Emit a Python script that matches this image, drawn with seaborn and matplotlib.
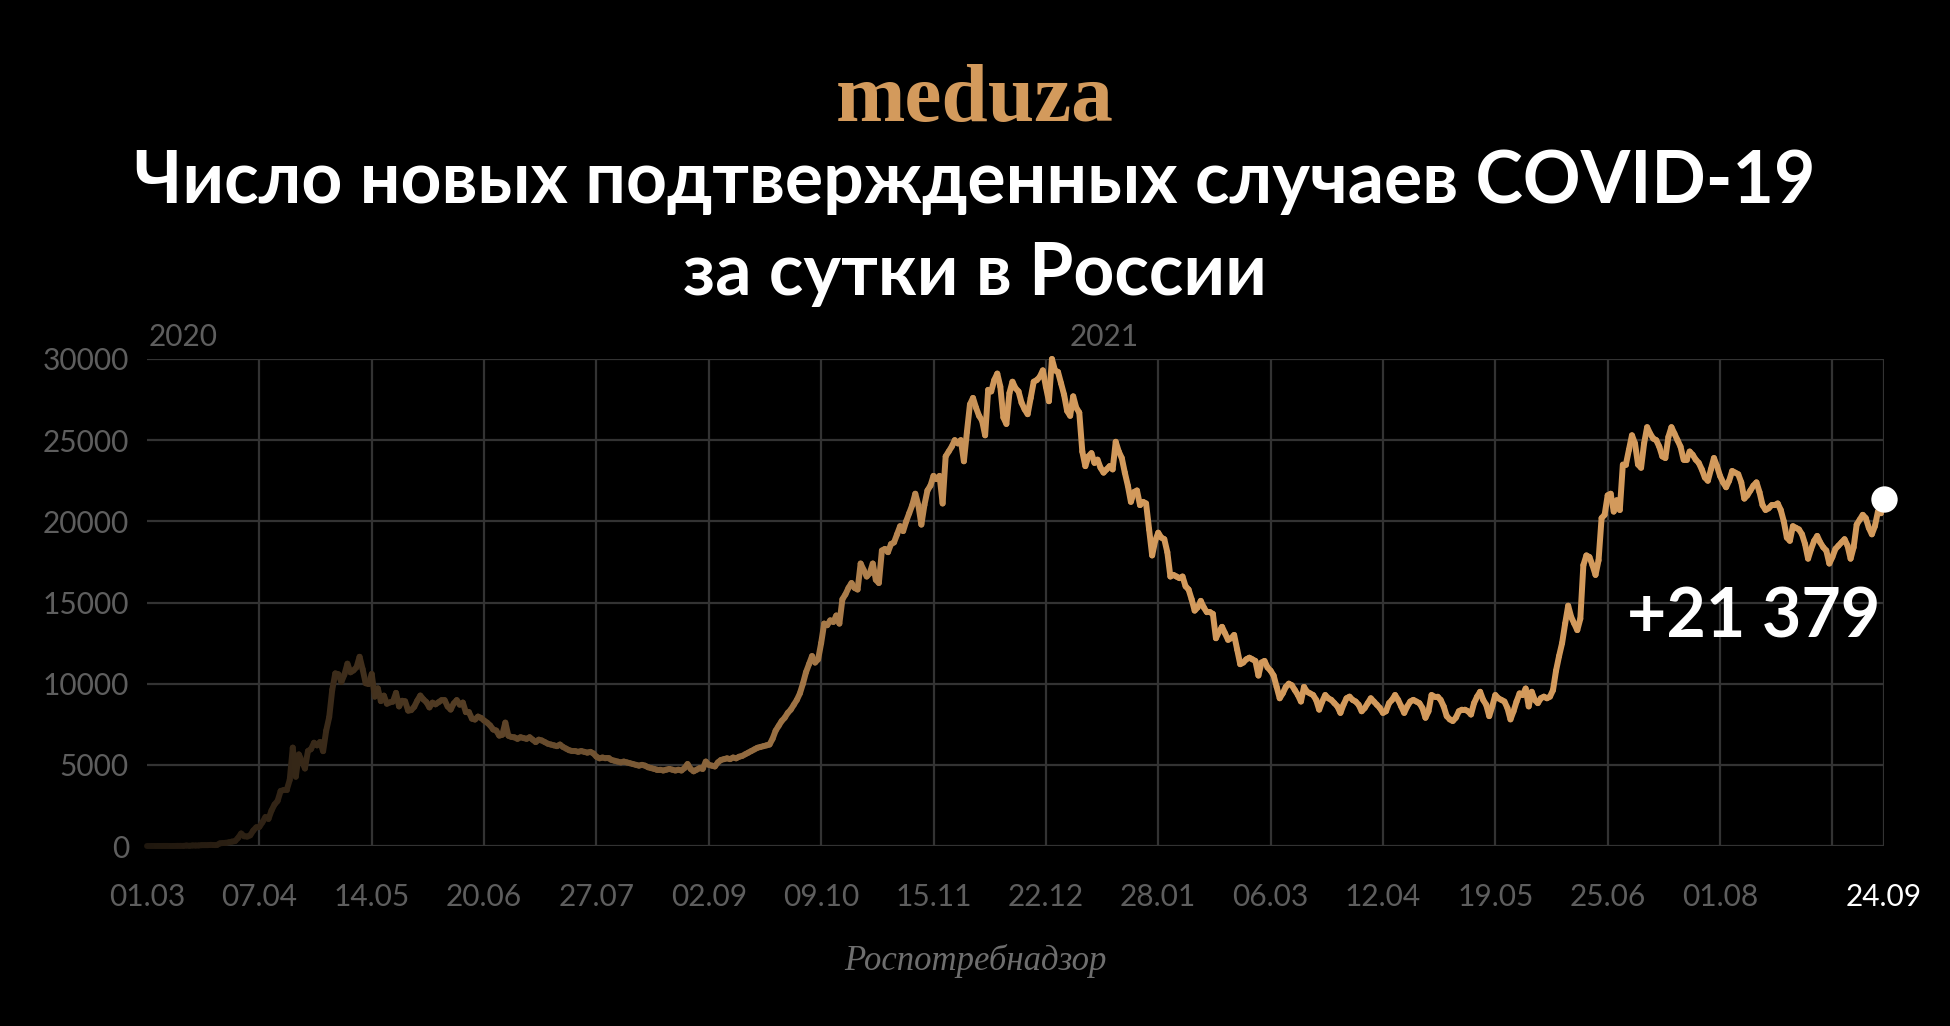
import numpy as np
import pandas as pd
import matplotlib
matplotlib.use("Agg")
import matplotlib.pyplot as plt
from matplotlib.colors import LinearSegmentedColormap
import seaborn as sns

# daily new cases
mar20 = [0, 0, 1, 0, 1, 3, 4, 3, 1, 3, 7, 8, 6, 29, 10, 34, 30, 33, 52, 54,
         53, 71, 57, 58, 163, 182, 196, 228, 270, 302, 500]
apr20 = [771, 601, 582, 658, 954, 1154, 1175, 1459, 1786, 1667, 2186, 2558, 2774, 3388, 3448,
         3448, 4070, 6060, 4268, 5642, 5236, 4774, 5849, 5966, 6361, 6198, 6411, 5841, 7099, 7933]
may20 = [9623, 10633, 10581, 10102, 10559, 11231, 10699, 10817, 11012, 11656, 10899, 10028,
         9974, 10598, 9200, 9709, 8926, 9263, 8764, 8849, 8894, 9434, 8599, 8946, 8915, 8338,
         8371, 8572, 8952, 9268, 9035]
jun20 = [8863, 8536, 8831, 8726, 8855, 8984, 8985, 8595, 8404, 8779, 8987, 8706, 8835, 8246,
         8248, 7843, 7790, 7972, 7889, 7728, 7600, 7425, 7176, 7113, 6800, 6852, 7600, 6791,
         6719, 6693]
jul20 = [6600, 6700, 6650, 6600, 6700, 6550, 6400, 6550, 6500, 6400, 6300, 6250, 6200, 6150,
         6250, 6100, 6000, 5900, 5850, 5850, 5800, 5850, 5800, 5750, 5800, 5700, 5500, 5400,
         5450, 5400, 5400]
aug20 = [5300, 5250, 5200, 5150, 5200, 5150, 5100, 5050, 5000, 4950, 5000, 4950, 4850, 4800,
         4750, 4700, 4700, 4650, 4700, 4750, 4700, 4650, 4700, 4650, 4800, 5050, 4750, 4600,
         4700, 4800, 4750]
sep20 = [5200, 5000, 4950, 4900, 5150, 5300, 5350, 5400, 5350, 5450, 5400, 5500, 5550, 5650,
         5750, 5850, 5950, 6050, 6100, 6150, 6200, 6250, 6600, 7100, 7400, 7700, 7900, 8200,
         8400, 8700]
oct20 = [9000, 9400, 10000, 10700, 11200, 11700, 11300, 11500, 12500, 13700, 13600, 13900,
         13800, 14200, 13700, 15200, 15500, 15900, 16200, 15900, 15800, 17400, 17000, 16600,
         16800, 17400, 16400, 16200, 18200, 18300, 18100]
nov20 = [18600, 18700, 19200, 19700, 19400, 20000, 20500, 21000, 21700, 21000, 19800, 21000,
         21900, 22200, 22800, 22600, 22800, 21100, 24000, 24300, 24600, 25000, 24800, 25000,
         23700, 25500, 27200, 27600, 27000, 26500]
dec20 = [26200, 25300, 28100, 28000, 28700, 29100, 28300, 26400, 26000, 27900, 28600, 28200,
         28000, 27300, 26900, 26600, 27600, 28600, 28700, 28900, 29300, 28300, 27400, 30000,
         29300, 29200, 28500, 27800, 26800, 26500, 27700]
jan21 = [27000, 26700, 24300, 23400, 24000, 24200, 23600, 23800, 23300, 23000, 23200, 23400,
         23200, 24900, 24300, 23900, 23000, 22200, 21200, 21800, 21900, 21000, 21200, 21100,
         19500, 17900, 18800, 19300, 19000, 18900, 18100]
feb21 = [16600, 16700, 16600, 16500, 16600, 16000, 15800, 15200, 14500, 14700, 15100, 14700,
         14400, 14400, 14300, 12800, 13200, 13500, 13100, 12700, 12800, 13000, 12100, 11200,
         11300, 11500, 11600, 11500]
mar21 = [11400, 10500, 11300, 11400, 11000, 10800, 10500, 9800, 9100, 9400, 9800, 10000,
         9900, 9600, 9300, 8900, 9800, 9500, 9400, 9300, 9000, 8400, 8900, 9300, 9100, 9000,
         8800, 8600, 8200, 8700, 9100]
apr21 = [9200, 9000, 8900, 8700, 8300, 8500, 8800, 9100, 8900, 8700, 8500, 8200, 8300, 8800,
         9000, 9300, 9000, 8600, 8200, 8600, 8900, 9000, 8900, 8800, 8500, 7900, 8300, 9300,
         9200, 9200]
may21 = [9000, 8600, 8000, 7800, 7700, 7900, 8300, 8400, 8400, 8300, 8100, 8800, 9200, 9500,
         9000, 8700, 8000, 8600, 9300, 9100, 9000, 8900, 8500, 7800, 8300, 8900, 9400, 9300,
         9700, 8600, 9500]
jun21 = [9000, 8800, 9100, 9200, 9100, 9200, 9600, 10800, 11700, 12500, 13700, 14800, 14100,
         13700, 13300, 14000, 17300, 17900, 17800, 17300, 16700, 17600, 20200, 20400, 21600,
         21700, 20600, 21300, 20700, 23500]
jul21 = [23500, 24400, 25300, 24800, 23500, 23300, 24800, 25800, 25400, 25100, 25000, 24600,
         24000, 23900, 25200, 25800, 25400, 25000, 24600, 23800, 23800, 24300, 24100, 23800,
         23600, 23200, 22700, 22500, 23200, 23900, 23400]
aug21 = [22800, 22400, 22100, 22500, 23100, 23000, 22900, 22400, 21400, 21600, 21900, 22200,
         22400, 21800, 21000, 20700, 20800, 21000, 21000, 21100, 20700, 20000, 19000, 18800,
         19700, 19600, 19500, 19200, 18600, 17700, 18300]
sep21 = [18800, 19100, 18700, 18400, 18200, 17400, 17800, 18300, 18500, 18700, 18900, 18500,
         17700, 18400, 19800, 20100, 20400, 20200, 19600, 19200, 19700, 20600, 20500, 21379]

month_starts = ["2020-03-01", "2020-04-01", "2020-05-01", "2020-06-01", "2020-07-01",
                "2020-08-01", "2020-09-01", "2020-10-01", "2020-11-01", "2020-12-01",
                "2021-01-01", "2021-02-01", "2021-03-01", "2021-04-01", "2021-05-01",
                "2021-06-01", "2021-07-01", "2021-08-01", "2021-09-01"]
month_values = [mar20, apr20, may20, jun20, jul20, aug20, sep20, oct20, nov20, dec20,
                jan21, feb21, mar21, apr21, may21, jun21, jul21, aug21, sep21]

dates, cases = [], []
for start, vals in zip(month_starts, month_values):
    dates += list(pd.date_range(start, periods=len(vals), freq="D"))
    cases += vals

GOLD = "#d39a5c"
GRID = "#333333"
TICK = "#5e5e5e"
W, H = 1950, 1026


def fx(x):
    return x / W


def fy(y):
    return 1 - y / H


sns.set_theme(style="dark", rc={"axes.facecolor": "black", "figure.facecolor": "black"})
plt.rcParams["font.family"] = ["Lato", "DejaVu Sans"]

fig = plt.figure(figsize=(W / 100, H / 100), dpi=100, facecolor="black")
ax = fig.add_axes([fx(147), fy(846), (1884 - 147) / W, (846 - 359) / H])
ax.set_facecolor("black")

# the line fades in from dark brown to gold: one short segment per day
day = np.arange(len(cases))
fade = np.clip(0.15 + 0.85 * (day / 285) ** 1.2, 0, 1)
rows = []
for i in range(len(cases) - 1):
    rows.append((dates[i], cases[i], i, fade[i]))
    rows.append((dates[i + 1], cases[i + 1], i, fade[i]))
seg = pd.DataFrame(rows, columns=["date", "cases", "seg", "fade"])

cmap = LinearSegmentedColormap.from_list("fade", ["#000000", GOLD])
sns.lineplot(data=seg, x="date", y="cases", units="seg", estimator=None, hue="fade",
             palette=cmap, hue_norm=(0, 1), legend=False, linewidth=4.3,
             solid_capstyle="round", ax=ax, zorder=3)
for ln in ax.lines:
    ln.set_clip_on(False)

ax.scatter([dates[-1]], [cases[-1]], s=360, color="white", zorder=5, clip_on=False,
           linewidths=0)

ax.set_xlim(pd.Timestamp("2020-03-01"), pd.Timestamp("2021-09-24"))
ax.set_ylim(0, 30000)
ax.set_xlabel("")
ax.set_ylabel("")

tick_dates = list(pd.date_range("2020-03-01", periods=16, freq="37D")) + [pd.Timestamp("2021-09-24")]
tick_labels = [d.strftime("%d.%m") for d in tick_dates]
tick_labels[15] = ""
ax.set_xticks(tick_dates)
ax.set_xticklabels(tick_labels)
ax.set_yticks([0, 5000, 10000, 15000, 20000, 25000, 30000])
ax.set_yticklabels(["0", "5000", "10000", "15000", "20000", "25000", "30000"])
ax.tick_params(axis="both", length=0, labelsize=21.5, labelcolor=TICK)
ax.tick_params(axis="y", pad=13)
ax.tick_params(axis="x", pad=27)
ax.get_xticklabels()[-1].set_color("white")

ax.grid(True, color=GRID, linewidth=1.6)
ax.get_xgridlines()[0].set_visible(False)
for s in ax.spines.values():
    s.set_visible(False)

# texts
fig.text(0.5, fy(121), "meduza", ha="center", va="baseline", family="Liberation Serif",
         weight="bold", color=GOLD, fontsize=60)
fig.text(0.5, fy(203), "Число новых подтвержденных случаев COVID-19", ha="center",
         va="baseline", fontsize=51.5, weight="bold", color="white")
fig.text(0.5, fy(295), "за сутки в России", ha="center", va="baseline", fontsize=51.5,
         weight="bold", color="white")
fig.text(fx(149), fy(346), "2020", ha="left", va="baseline", fontsize=21.5, color=TICK)
fig.text(fx(1070), fy(346), "2021", ha="left", va="baseline", fontsize=21.5, color=TICK)
fig.text(fx(1880), fy(638), "+21 379", ha="right", va="baseline", fontsize=49,
         weight="bold", color="white")
fig.text(0.5, fy(970), "Роспотребнадзор", ha="center", va="baseline",
         family="Liberation Serif", style="italic", color="#6e6e6e", fontsize=25)

fig.savefig("out.png", dpi=100, facecolor="black")
